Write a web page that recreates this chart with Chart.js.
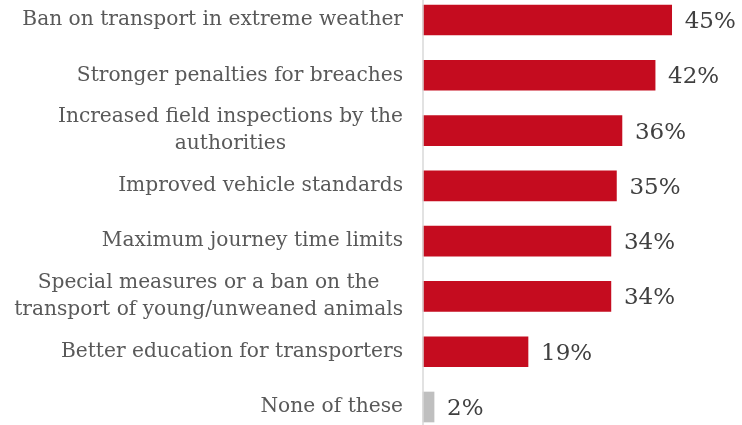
<!DOCTYPE html>
<html>
<head>
<meta charset="utf-8">
<script src="https://cdn.jsdelivr.net/npm/chart.js@4/dist/chart.umd.min.js"></script>
<style>
  html, body { margin: 0; padding: 0; background: #fff; }
  #wrap { width: 742px; height: 425px; position: relative; }
</style>
</head>
<body>
<div id="wrap"><canvas id="c"></canvas></div>
<script>
// ── DATA ──────────────────────────────────────────────────────────────────
const categories = [
  ['Ban on transport in extreme weather'],
  ['Stronger penalties for breaches'],
  ['Increased field inspections by the', 'authorities'],
  ['Improved vehicle standards'],
  ['Maximum journey time limits'],
  ['Special measures or a ban on the', 'transport of young/unweaned animals'],
  ['Better education for transporters'],
  ['None of these'],
];
const values = [45, 42, 36, 35, 34, 34, 19, 2];
const valueLabels = ['45%', '42%', '36%', '35%', '34%', '34%', '19%', '2%'];

// ── STYLE ─────────────────────────────────────────────────────────────────
const RED   = '#c50c1f';
const GREY  = '#bfbfbf';
const SERIF = '"DejaVu Serif", Georgia, serif';
const AXIS_X = 423;

// Etiquetas de categoría: bloque alineado a la derecha, líneas centradas (como Excel)
const labelPlugin = {
  id: 'catLabels',
  afterDraw(chart) {
    const { ctx } = chart;
    const y = chart.scales.y;
    ctx.save();
    // eje vertical a toda altura
    ctx.strokeStyle = '#d9d9d9';
    ctx.lineWidth = 1.5;
    ctx.beginPath();
    ctx.moveTo(AXIS_X, 0);
    ctx.lineTo(AXIS_X, chart.height);
    ctx.stroke();

    ctx.font = `20.2px ${SERIF}`;
    ctx.fillStyle = '#595959';
    ctx.textBaseline = 'middle';
    ctx.textAlign = 'center';
    const right = 403, lh = 27;
    categories.forEach((lines, i) => {
      const cy = y.getPixelForValue(i);
      const w = Math.max(...lines.map(l => ctx.measureText(l).width));
      const cx = right - w / 2;
      const y0 = cy - (lines.length - 1) * lh / 2;
      lines.forEach((l, j) => ctx.fillText(l, cx, y0 + j * lh));
    });
    ctx.restore();
  },
  afterDatasetsDraw(chart) {
    const { ctx } = chart;
    const meta = chart.getDatasetMeta(0);
    ctx.save();
    ctx.font = `23px ${SERIF}`;
    ctx.fillStyle = '#404040';
    ctx.textBaseline = 'middle';
    ctx.textAlign = 'left';
    meta.data.forEach((bar, i) => {
      ctx.fillText(valueLabels[i], bar.x + 13, bar.y + 2);
    });
    ctx.restore();
  }
};

new Chart(document.getElementById('c'), {
  type: 'bar',
  data: {
    labels: categories.map(c => c.join(' ')),
    datasets: [{
      data: values,
      backgroundColor: ctx => ctx.dataIndex === values.length - 1 ? GREY : RED,
      borderWidth: 0,
      barThickness: 30,
      clip: false,
    }],
  },
  options: {
    indexAxis: 'y',
    responsive: true,
    maintainAspectRatio: false,
    animation: false,
    layout: { padding: { top: 20, bottom: 18, left: 0, right: 4 } },
    plugins: { legend: { display: false }, tooltip: { enabled: false } },
    scales: {
      x: { display: false, min: 0, max: 57 },
      y: {
        offset: false,
        grid: { display: false },
        border: { display: false },
        ticks: { display: false },
        afterFit: s => { s.width = AXIS_X; },
      },
    },
  },
  plugins: [labelPlugin],
});
</script>
</body>
</html>
